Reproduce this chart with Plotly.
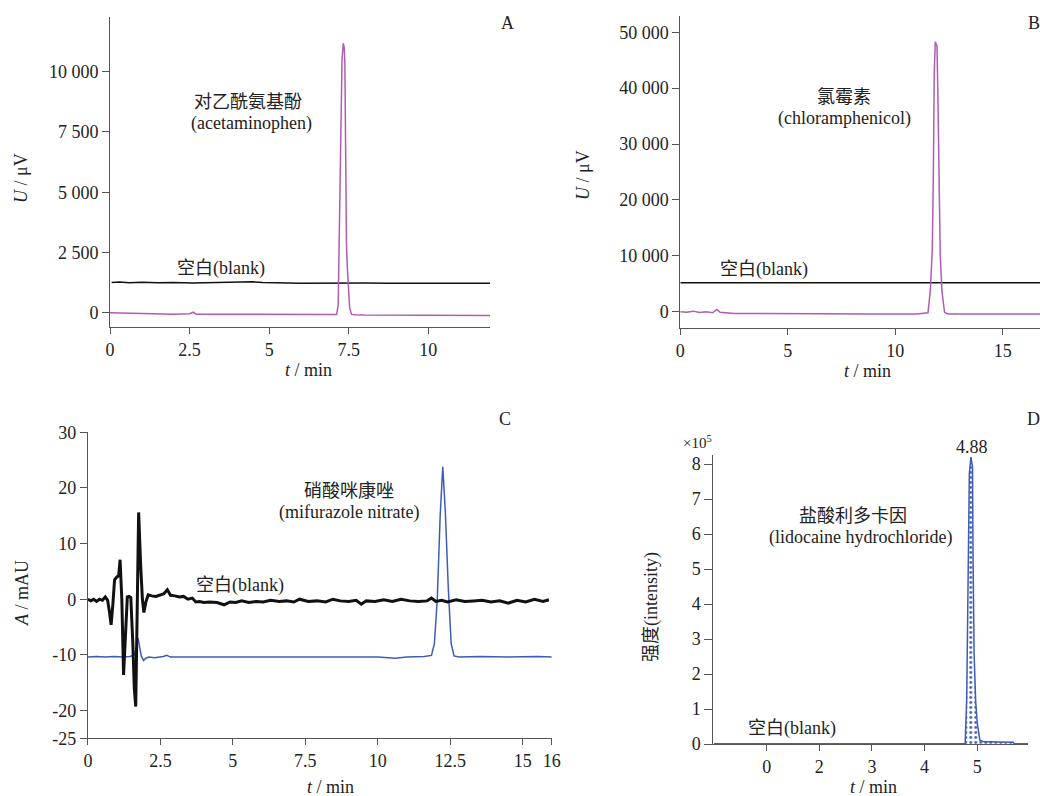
import plotly.graph_objects as go

W, H = 1040, 796
FONT = "Liberation Serif, Noto Sans CJK SC, serif"
TXT = "#222222"
AX = "#555555"
PURPLE = "#b05cb3"
BLUE = "#3d5cb8"

# ---------------- Panel A data ----------------
a_t = [0, 0.5, 1.0, 1.1, 1.5, 2.0, 2.5, 2.62, 2.66, 2.72, 3.0, 4.0, 5.0, 6.0, 6.5, 7.0,
       7.12, 7.17, 7.20, 7.25, 7.29, 7.33, 7.36, 7.38, 7.41, 7.43, 7.46, 7.49, 7.53, 7.59,
       7.7, 8.0, 9.0, 10.0, 11.0, 11.94]
a_sample = [0, -10, -20, -50, -40, -60, -40, 20, -30, -60, -60, -70, -80, -90, -100, -100,
            -80, 300, 2880, 7580, 10500, 11180, 11000, 10350, 5640, 2880, 1800, 940, 200, -70,
            -90, -100, -100, -100, -110, -120]
a_blank_t = [0.05, 0.3, 0.6, 1.0, 1.5, 2.0, 2.6, 3.3, 4.2, 4.5, 4.8, 6.0, 8.0, 8.7, 11.94]
a_blank = [1250, 1270, 1240, 1260, 1240, 1250, 1230, 1240, 1260, 1280, 1250, 1220, 1230, 1220, 1220]
a_yticks = [0, 2500, 5000, 7500, 10000]
a_yticklabels = ["0", "2 500", "5 000", "7 500", "10 000"]
a_xticks = [0, 2.5, 5, 7.5, 10]
a_xticklabels = ["0", "2.5", "5", "7.5", "10"]

# ---------------- Panel B data ----------------
b_t = [0, 0.3, 0.6, 0.9, 1.2, 1.5, 1.7, 1.85, 2.5, 4.0, 6.0, 7.6, 9.0, 11.0, 11.52, 11.63,
       11.72, 11.77, 11.81, 11.86, 11.94, 11.98, 12.03, 12.09, 12.17, 12.29, 12.44, 14.0, 16.73]
b_sample = [0, -100, 100, -150, 0, -200, 400, -100, -300, -350, -380, -350, -420, -420, -200,
            3880, 11040, 24770, 42660, 48300, 47500, 38780, 24160, 10150, 3580, -120, -410,
            -420, -430]
b_blank_t = [0, 16.73]
b_blank = [5190, 5190]
b_yticks = [0, 10000, 20000, 30000, 40000, 50000]
b_yticklabels = ["0", "10 000", "20 000", "30 000", "40 000", "50 000"]
b_xticks = [0, 5, 10, 15]
b_xticklabels = ["0", "5", "10", "15"]

# ---------------- Panel C data ----------------
c_blank_t = [0, 0.1, 0.2, 0.3, 0.4, 0.5, 0.6, 0.68, 0.75, 0.80, 0.86, 0.92, 1.0, 1.06, 1.11,
             1.17, 1.23, 1.30, 1.36, 1.42, 1.48, 1.55, 1.60, 1.65, 1.70, 1.75, 1.82, 1.88,
             1.93, 2.0, 2.08, 2.2, 2.35, 2.5, 2.62, 2.74, 2.85, 3.0, 3.15, 3.3, 3.45, 3.6,
             3.72, 3.85, 4.0, 4.2, 4.45, 4.7, 4.9, 5.1, 5.3, 5.55, 5.8, 6.05, 6.3, 6.6, 6.85,
             7.1, 7.3, 7.6, 7.9, 8.2, 8.45, 8.7, 9.0, 9.25, 9.43, 9.6, 9.9, 10.2, 10.5, 10.8,
             11.1, 11.4, 11.7, 11.85, 12.0, 12.2, 12.4, 12.7, 13.0, 13.3, 13.6, 13.9, 14.2,
             14.5, 14.8, 15.1, 15.4, 15.7, 15.9]
c_blank = [0, -0.3, 0, -0.4, 0, -0.2, 0.4, -0.2, -2.5, -4.6, -1, 3.5, 4, 4.2, 7.1,
           0, -13.6, -6, 0.4, 0.5, 0.3, -8, -16, -19.3, -5, 15.6, 6, 0,
           -2.4, -0.5, 0.8, 0.6, 0.5, 0.7, 1.0, 1.7, 0.7, 0.6, 0.4, 0.5, 0, 0.2,
           -0.5, -0.4, -0.6, -0.5, -0.6, -1.0, -0.5, -0.6, -0.3, -0.6, -0.4, -0.5, -0.2, -0.4, -0.3,
           -0.5, 0, -0.4, -0.3, -0.5, 0, -0.3, -0.4, -0.2, -0.9, -0.3, -0.4, -0.1, -0.4, 0,
           -0.3, -0.4, -0.3, 0.2, -0.4, -0.2, -0.5, -0.1, -0.4, -0.3, -0.2, -0.5, -0.3,
           -0.7, -0.2, -0.5, 0, -0.4, -0.1]
c_t = [0, 0.3, 0.6, 0.9, 1.2, 1.45, 1.6, 1.68, 1.73, 1.78, 1.84, 1.92, 2.0, 2.1, 2.3, 2.6,
       2.72, 2.85, 3.2, 3.8, 4.5, 5.3, 6.0, 7.0, 8.0, 9.0, 10.0, 10.6, 11.0, 11.6, 11.85,
       11.95, 12.05, 12.15, 12.24, 12.33, 12.43, 12.53, 12.63, 12.8, 13.5, 14.5, 15.5, 16]
c_sample = [-10.4, -10.3, -10.4, -10.3, -10.4, -10.3, -10.0, -8.5, -7.0, -8.5, -10.2, -11.0,
            -10.6, -10.4, -10.5, -10.3, -10.1, -10.4, -10.4, -10.3, -10.4, -10.3, -10.4, -10.3,
            -10.4, -10.3, -10.4, -10.6, -10.4, -10.3, -10.1, -8.0, 0.0, 15.0, 23.8, 15.5, 2.0,
            -8.0, -10.2, -10.4, -10.3, -10.4, -10.3, -10.4]
c_yticks = [30, 20, 10, 0, -10, -20, -25]
c_yticklabels = ["30", "20", "10", "0", "-10", "-20", "-25"]
c_xticks = [0, 2.5, 5, 7.5, 10, 12.5, 15, 16]
c_xticklabels = ["0", "2.5", "5", "7.5", "10", "12.5", "15", "16"]

# ---------------- Panel D data ----------------
d_t = [0, 4.77, 4.80, 4.83, 4.85, 4.88, 4.91, 4.92, 4.94, 4.97, 5.00, 5.05, 5.11, 5.40,
       5.68, 5.71, 5.97]
d_sample = [0, 0, 1.3, 5.07, 7.73, 8.2, 7.93, 5.4, 2.6, 1.22, 0.6, 0.11, 0.07, 0.06,
            0.05, 0, 0]
d_blank_t = [0, 5.97]
d_blank = [0, 0]
d_yticks = [0, 1, 2, 3, 4, 5, 6, 7, 8]
d_yticklabels = ["0", "1", "2", "3", "4", "5", "6", "7", "8"]
d_xticks = [1, 2, 3, 4, 5]
d_xticklabels = ["0", "2", "3", "4", "5"]


def px(x):
    return x / W


def py(y):
    return 1 - y / H


fig = go.Figure()

# A
fig.add_trace(go.Scatter(x=a_blank_t, y=a_blank, mode="lines", line=dict(color="#111111", width=1.5),
                         xaxis="x", yaxis="y", showlegend=False))
fig.add_trace(go.Scatter(x=a_t, y=a_sample, mode="lines", line=dict(color=PURPLE, width=1.5),
                         xaxis="x", yaxis="y", showlegend=False))
# B
fig.add_trace(go.Scatter(x=b_blank_t, y=b_blank, mode="lines", line=dict(color="#111111", width=1.5),
                         xaxis="x2", yaxis="y2", showlegend=False))
fig.add_trace(go.Scatter(x=b_t, y=b_sample, mode="lines", line=dict(color=PURPLE, width=1.5),
                         xaxis="x2", yaxis="y2", showlegend=False))
# C
fig.add_trace(go.Scatter(x=c_t, y=c_sample, mode="lines", line=dict(color=BLUE, width=1.5),
                         xaxis="x3", yaxis="y3", showlegend=False))
fig.add_trace(go.Scatter(x=c_blank_t, y=c_blank, mode="lines", line=dict(color="#111111", width=3),
                         xaxis="x3", yaxis="y3", showlegend=False))
# D
fig.add_trace(go.Scatter(x=d_blank_t, y=d_blank, mode="lines", line=dict(color="#e04040", width=2),
                         xaxis="x4", yaxis="y4", showlegend=False))
fig.add_trace(go.Scatter(x=d_t, y=d_sample, mode="lines", line=dict(color=BLUE, width=1.5),
                         fill="tozeroy", fillcolor="rgba(255,255,255,0)",
                         fillpattern=dict(shape=".", fgcolor=BLUE, bgcolor="white", size=5, solidity=0.25),
                         xaxis="x4", yaxis="y4", showlegend=False))

tickfont = dict(family=FONT, size=18, color=TXT)


def xax(domain, rng, tv, tt, anchor):
    return dict(domain=domain, range=rng, tickvals=tv, ticktext=tt, anchor=anchor,
                showline=True, linecolor=AX, linewidth=1, ticks="outside", ticklen=6,
                tickcolor=AX, showgrid=False, zeroline=False, tickfont=tickfont,
                automargin=False, fixedrange=True)


def yax(domain, rng, tv, tt, anchor, ticklen=7):
    return dict(domain=domain, range=rng, tickvals=tv, ticktext=tt, anchor=anchor,
                showline=True, linecolor=AX, linewidth=1, ticks="outside", ticklen=ticklen,
                tickcolor=AX, showgrid=False, zeroline=False, tickfont=tickfont,
                automargin=False, fixedrange=True)


layout = dict(
    template="none",
    width=W, height=H, margin=dict(l=0, r=0, t=0, b=0, pad=0, autoexpand=False),
    paper_bgcolor="white", plot_bgcolor="white",
    xaxis=xax([px(110), px(490)], [0, 11.94], a_xticks, a_xticklabels, "y"),
    yaxis=yax([py(327.3), py(16.7)], [-606, 12282], a_yticks, a_yticklabels, "x"),
    xaxis2=xax([px(680.3), 1.0], [0, 16.73], b_xticks, b_xticklabels, "y2"),
    yaxis2=yax([py(328.3), py(16)], [-2970, 52900], b_yticks, b_yticklabels, "x2"),
    xaxis3=xax([px(87.9), px(551.8)], [0, 16], c_xticks, c_xticklabels, "y3"),
    yaxis3=yax([py(738.3), py(432.3)], [-25, 30], c_yticks, c_yticklabels, "x3"),
    xaxis4=xax([px(713.3), px(1028.3)], [-0.014, 5.97], d_xticks, d_xticklabels, "y4"),
    yaxis4=yax([py(744), py(455)], [0, 8.26], d_yticks, d_yticklabels, "x4", ticklen=8),
)
fig.update_layout(**layout)


def ann(x, y, text, size=18, angle=0, xanchor="center"):
    fig.add_annotation(x=px(x), y=py(y), xref="paper", yref="paper", text=text, showarrow=False,
                       font=dict(family=FONT, size=size, color=TXT), textangle=angle,
                       xanchor=xanchor, yanchor="middle")


# Panel letters
ann(507, 23, "A")
ann(1034, 23, "B")
ann(505, 419, "C")
ann(1033, 419, "D")

# Compound labels
ann(248, 102, "对乙酰氨基酚")
ann(251, 123, "(acetaminophen)")
ann(221, 268, "空白(blank)")
ann(844, 97, "氯霉素")
ann(844, 118, "(chloramphenicol)")
ann(764, 269, "空白(blank)")
ann(349, 491, "硝酸咪康唑")
ann(349, 512, "(mifurazole nitrate)")
ann(240, 585, "空白(blank)")
ann(853, 516, "盐酸利多卡因")
ann(860, 537, "(lidocaine hydrochloride)")
ann(792, 728, "空白(blank)")
ann(972, 447, "4.88")
ann(697, 442, "×10<sup>5</sup>", size=15)

# Axis titles
ann(21, 178, "<i>U</i> / μV", angle=-90)
ann(308, 370, "<i>t</i> / min")
ann(583, 175, "<i>U</i> / μV", angle=-90)
ann(867, 371, "<i>t</i> / min")
ann(22, 593, "<i>A</i> / mAU", angle=-90)
ann(330, 787, "<i>t</i> / min")
ann(651, 607, "强度(intensity)", angle=-90)
ann(873, 787, "<i>t</i> / min")

fig.write_html("out.html", config={"displayModeBar": False},
               post_script="document.body.style.margin='0';document.body.style.overflow='hidden';")
